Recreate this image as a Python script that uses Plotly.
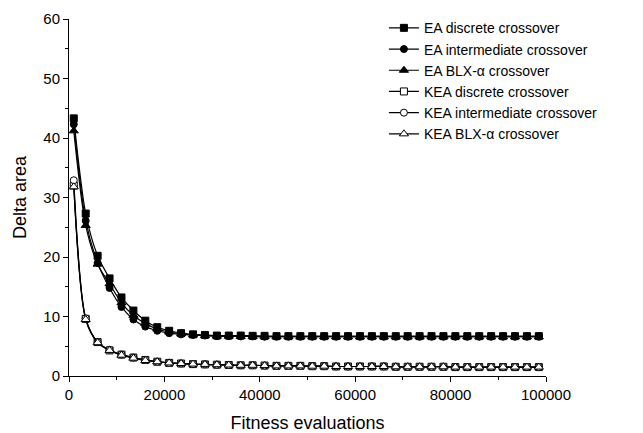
import plotly.graph_objects as go

evaluations = [1000, 3500, 6000, 8500, 11000, 13500, 16000, 18500, 21000, 23500,
               26000, 28500, 31000, 33500, 36000, 38500, 41000, 43500, 46000, 48500,
               51000, 53500, 56000, 58500, 61000, 63500, 66000, 68500, 71000, 73500,
               76000, 78500, 81000, 83500, 86000, 88500, 91000, 93500, 96000, 98500]

ea_discrete = [43.3, 27.3, 20.2, 16.4, 13.2, 11.0, 9.3, 8.2, 7.6, 7.2,
               7.0, 6.9, 6.8, 6.8, 6.8, 6.75, 6.75, 6.7, 6.7, 6.7,
               6.7, 6.7, 6.7, 6.7, 6.7, 6.7, 6.7, 6.7, 6.7, 6.7,
               6.7, 6.7, 6.7, 6.7, 6.7, 6.7, 6.7, 6.7, 6.7, 6.7]
ea_intermediate = [42.3, 26.1, 19.0, 14.8, 11.6, 9.5, 8.3, 7.6, 7.2, 7.0,
                   6.9, 6.8, 6.7, 6.7, 6.65, 6.65, 6.6, 6.6, 6.6, 6.6,
                   6.6, 6.6, 6.6, 6.6, 6.6, 6.6, 6.6, 6.6, 6.6, 6.6,
                   6.6, 6.6, 6.6, 6.6, 6.6, 6.6, 6.6, 6.6, 6.6, 6.6]
ea_blx = [41.2, 25.3, 18.8, 15.5, 12.3, 10.2, 8.8, 7.9, 7.4, 7.1,
          6.9, 6.8, 6.7, 6.7, 6.65, 6.65, 6.6, 6.6, 6.6, 6.6,
          6.6, 6.6, 6.6, 6.6, 6.6, 6.6, 6.6, 6.6, 6.6, 6.6,
          6.6, 6.6, 6.6, 6.6, 6.6, 6.6, 6.6, 6.6, 6.6, 6.6]
kea_discrete = [32.0, 9.6, 5.7, 4.3, 3.6, 3.1, 2.7, 2.4, 2.2, 2.1,
                2.0, 1.95, 1.9, 1.85, 1.8, 1.8, 1.75, 1.7, 1.7, 1.7,
                1.65, 1.65, 1.6, 1.6, 1.6, 1.6, 1.6, 1.55, 1.55, 1.55,
                1.55, 1.55, 1.5, 1.5, 1.5, 1.5, 1.5, 1.5, 1.5, 1.5]
kea_intermediate = [32.9, 9.7, 5.7, 4.4, 3.6, 3.1, 2.7, 2.4, 2.2, 2.1,
                    2.0, 1.95, 1.9, 1.85, 1.8, 1.8, 1.75, 1.7, 1.7, 1.7,
                    1.65, 1.65, 1.6, 1.6, 1.6, 1.6, 1.6, 1.55, 1.55, 1.55,
                    1.55, 1.55, 1.5, 1.5, 1.5, 1.5, 1.5, 1.5, 1.5, 1.5]
kea_blx = [31.8, 9.5, 5.6, 4.3, 3.5, 3.0, 2.6, 2.4, 2.2, 2.1,
           2.0, 1.95, 1.9, 1.85, 1.8, 1.8, 1.75, 1.7, 1.7, 1.7,
           1.65, 1.65, 1.6, 1.6, 1.6, 1.6, 1.6, 1.55, 1.55, 1.55,
           1.55, 1.55, 1.5, 1.5, 1.5, 1.5, 1.5, 1.5, 1.5, 1.5]

x_tick_values = [0, 20000, 40000, 60000, 80000, 100000]
x_tick_labels = ["0", "20000", "40000", "60000", "80000", "100000"]

series_names = ["EA discrete crossover", "EA intermediate crossover", "EA BLX-α crossover",
                "KEA discrete crossover", "KEA intermediate crossover", "KEA BLX-α crossover"]
series_values = [ea_discrete, ea_intermediate, ea_blx, kea_discrete, kea_intermediate, kea_blx]
symbols = ["square", "circle", "triangle-up", "square", "circle", "triangle-up"]
fills = ["black", "black", "black", "white", "white", "white"]
sizes = [7, 7, 8, 7, 7, 8]

fig = go.Figure()
for name, vals, sym, fc, sz in zip(series_names, series_values, symbols, fills, sizes):
    fig.add_trace(go.Scatter(
        x=evaluations, y=vals, name=name, mode="lines+markers",
        line=dict(color="black", width=1.2, shape="spline", smoothing=0.8),
        marker=dict(symbol=sym, size=sz, color=fc, line=dict(color="black", width=1)),
    ))

font_family = "Liberation Sans, Arial, sans-serif"
# the page body has an 8px margin, so the figure is sized to fit the 643x433 window
fig.update_layout(
    width=635, height=425,
    margin=dict(l=61, r=97, t=11, b=57, autoexpand=False),
    plot_bgcolor="white", paper_bgcolor="white",
    font=dict(family=font_family, color="black"),
    showlegend=True,
    legend=dict(xref="container", yref="container", x=0.592, y=0.99,
                xanchor="left", yanchor="top",
                font=dict(size=14, family=font_family), bgcolor="rgba(0,0,0,0)",
                tracegroupgap=0, itemwidth=30),
    xaxis=dict(range=[0, 100000], tickvals=x_tick_values, ticktext=x_tick_labels,
               ticks="outside", ticklen=5, tickwidth=1, tickcolor="black",
               minor=dict(dtick=10000, ticks="outside", ticklen=3, tickcolor="black"),
               showline=True, linecolor="black", linewidth=1, showgrid=False, zeroline=False,
               automargin=False,
               tickfont=dict(size=15), title=dict(text="Fitness evaluations", font=dict(size=18), standoff=19)),
    yaxis=dict(range=[0, 60], dtick=10,
               ticks="outside", ticklen=5, tickwidth=1, tickcolor="black",
               minor=dict(dtick=5, ticks="outside", ticklen=3, tickcolor="black"),
               showline=True, linecolor="black", linewidth=1, showgrid=False, zeroline=False,
               automargin=False,
               tickfont=dict(size=15), title=dict(text="Delta area", font=dict(size=18), standoff=12)),
)

fig.write_html("out.html")
